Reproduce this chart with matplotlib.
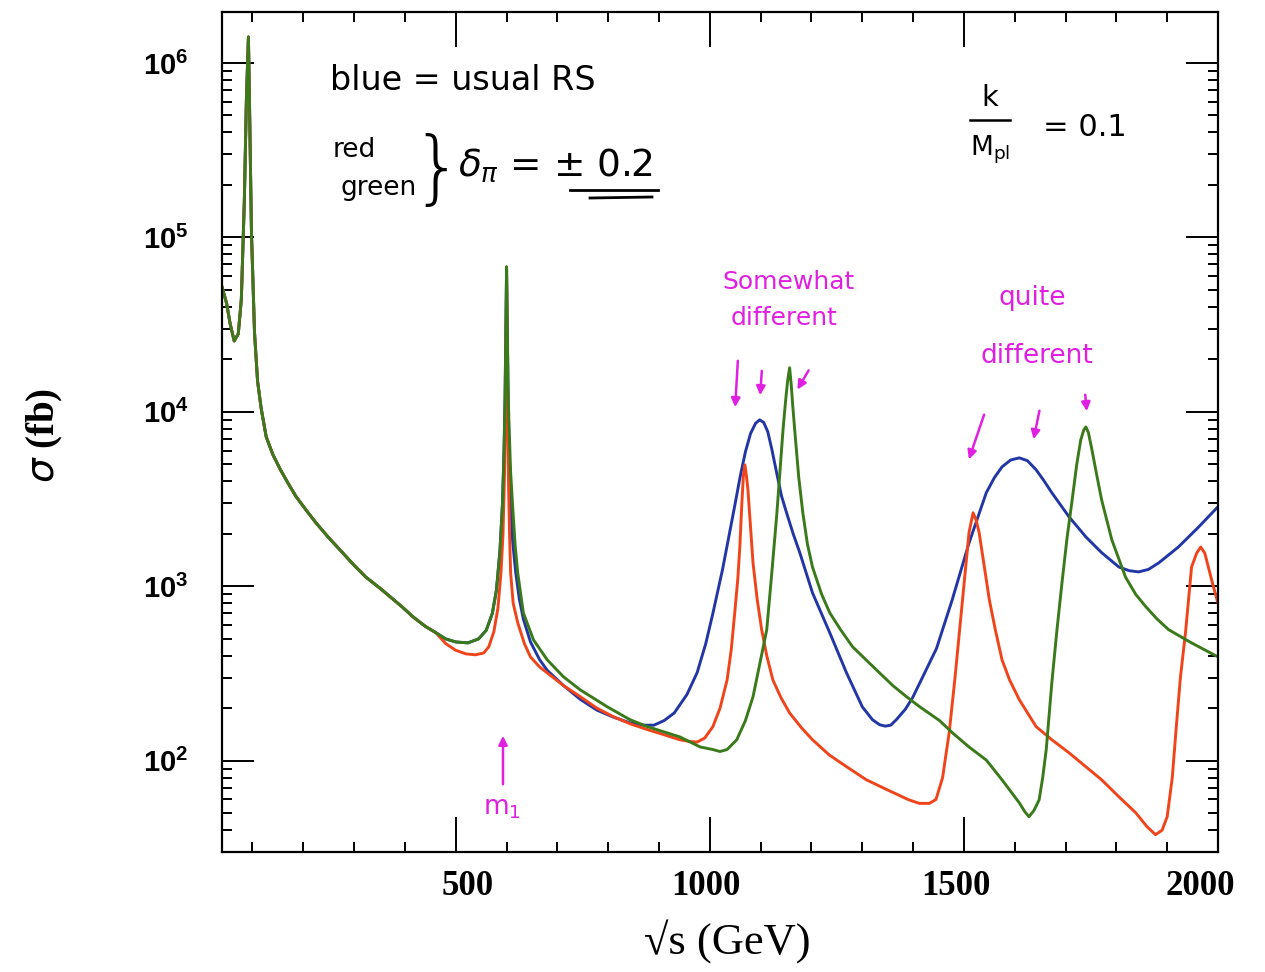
import numpy as np
import matplotlib
matplotlib.use("Agg")
import matplotlib.pyplot as plt
import matplotlib.transforms as mtrans
from matplotlib import ticker

plt.rcParams['mathtext.fontset'] = 'custom'
plt.rcParams['mathtext.bf'] = 'Liberation Sans:bold'
plt.rcParams['mathtext.rm'] = 'DejaVu Sans'
plt.rcParams['mathtext.it'] = 'DejaVu Sans:italic'

# ---- data (sqrt(s) in GeV, sigma in fb) ----
common_x = [40, 49, 56, 64, 72, 78, 84, 88, 92, 94, 98, 104, 110, 117, 127, 140, 155, 170,
            186, 205, 225, 250, 272, 300, 323, 350, 371, 395, 416, 440, 461]
common_y = [52000, 42000, 32000, 25500, 28000, 43900, 164000, 614000, 1.41e6, 614000, 106000,
            28400, 15000, 10500, 7190, 5700, 4660, 3900, 3260, 2750, 2310, 1900, 1620, 1320,
            1130, 980, 871, 760, 668, 590, 542]

blue_x = [480, 500, 524, 545, 560, 572, 580, 587, 592, 595, 597, 598.5, 600, 601.5, 603, 605,
          608, 612, 618, 625, 633, 647, 665, 680, 712, 745, 778, 810, 843, 870, 890, 910, 930,
          955, 975, 992, 1006, 1025, 1040, 1050, 1060, 1070, 1080, 1090, 1098, 1106, 1114, 1122,
          1132, 1141, 1151, 1164, 1177, 1202, 1236, 1269, 1300, 1320, 1334, 1345, 1356, 1367,
          1385, 1399, 1412, 1446, 1477, 1510, 1544, 1560, 1575, 1592, 1609, 1625, 1642, 1657,
          1673, 1707, 1740, 1771, 1805, 1825, 1844, 1863, 1883, 1922, 1962, 2000]
blue_y = [500, 480, 474, 500, 560, 700, 950, 1600, 3000, 6000, 12000, 28000, 66000, 28000,
          12000, 6000, 3000, 1800, 1200, 850, 650, 480, 380, 330, 270, 225, 195, 178, 165, 160,
          160, 170, 188, 240, 320, 470, 700, 1250, 2110, 3000, 4300, 5900, 7500, 8600, 9000,
          8700, 7700, 6100, 4400, 3300, 2640, 2000, 1560, 918, 542, 319, 204, 172, 161, 158,
          160, 172, 198, 230, 275, 440, 838, 1770, 3440, 4200, 4840, 5300, 5450, 5250, 4660,
          4050, 3440, 2500, 1920, 1560, 1290, 1230, 1210, 1250, 1360, 1680, 2190, 2860]

red_x = [480, 500, 520, 539, 555, 565, 575, 583, 589, 593, 596, 598, 599.3, 600, 600.7, 602,
         603.5, 605.5, 608, 613, 622, 635, 647, 665, 680, 712, 745, 778, 810, 843, 877, 910,
         941, 960, 975, 990, 1006, 1020, 1034, 1042, 1049, 1055, 1059, 1063, 1066, 1069, 1072,
         1075, 1080, 1085, 1093, 1102, 1112, 1124, 1140, 1157, 1180, 1202, 1235, 1269, 1308,
         1350, 1390, 1412, 1432, 1445, 1458, 1471, 1482, 1491, 1500, 1510, 1518, 1524, 1530,
         1540, 1550, 1562, 1575, 1590, 1609, 1642, 1673, 1707, 1740, 1771, 1805, 1838, 1860,
         1877, 1890, 1900, 1910, 1917, 1926, 1936, 1948, 1958, 1966, 1974, 1981, 1990, 2000]
red_y = [470, 430, 410, 405, 415, 450, 550, 750, 1200, 2000, 4500, 12000, 30000, 60000, 30000,
         10000, 4500, 2200, 1190, 800, 618, 470, 394, 345, 319, 270, 233, 200, 179, 163, 151,
         141, 132, 129, 128, 135, 157, 200, 291, 430, 705, 1100, 1680, 3000, 4300, 4970, 4300,
         3570, 2200, 1360, 850, 564, 400, 291, 230, 188, 155, 132, 108, 92.5, 77.8, 68, 60, 57,
         57, 60, 80, 145, 290, 542, 1000, 2030, 2640, 2400, 2030, 1300, 838, 560, 379, 290, 224,
         157, 132, 111, 92.5, 77.8, 62.2, 50.4, 42, 37.7, 40, 47.8, 80, 145, 300, 542, 1290, 1550,
         1680, 1550, 1290, 1020, 800]

green_x = [480, 500, 524, 545, 560, 572, 580, 587, 592, 595, 597, 598.5, 600, 601.5, 603, 604.5,
           608, 612, 617, 622, 633, 653, 680, 712, 745, 798, 843, 877, 941, 981, 1006, 1020,
           1034, 1053, 1070, 1085, 1100, 1112, 1122, 1132, 1139, 1144, 1149, 1153, 1157, 1160,
           1163, 1167, 1175, 1183, 1192, 1202, 1220, 1236, 1258, 1281, 1307, 1334, 1360, 1387,
           1412, 1452, 1477, 1510, 1544, 1575, 1609, 1620, 1628, 1638, 1648, 1655, 1662, 1673,
           1683, 1693, 1703, 1713, 1722, 1730, 1736, 1740, 1745, 1752, 1761, 1771, 1791, 1818,
           1838, 1858, 1880, 1903, 1948, 2000]
green_y = [500, 480, 474, 500, 560, 700, 950, 1600, 3000, 6000, 12000, 28000, 68000, 30000,
           14000, 9000, 4500, 2860, 1700, 1190, 705, 493, 379, 303, 255, 204, 172, 157, 137, 120,
           116, 113, 116, 132, 170, 233, 380, 564, 1200, 2640, 5000, 7890, 11500, 15000, 17900,
           14500, 11000, 7890, 4200, 2640, 1750, 1290, 900, 705, 560, 450, 380, 319, 270, 233,
           205, 170, 145, 120, 101, 77.8, 57.4, 51, 47.8, 52, 59.7, 80, 116, 280, 560, 1050,
           1900, 3130, 5000, 6920, 7900, 8200, 7600, 6050, 4400, 3130, 1850, 1130, 900, 764,
           650, 564, 474, 394]

x_major = [500, 1000, 1500, 2000]
x_labels = ['500', '1000', '1500', '2000']

# ---- figure ----
W, H = 1265, 972
fig = plt.figure(figsize=(W / 100, H / 100), dpi=100)
ax = fig.add_axes([222 / W, 1 - 852 / H, (1218 - 222) / W, (852 - 12) / H])

c_blue = '#2236a6'
c_red = '#f0441a'
c_green = '#3a7a1a'

ax.plot(common_x + blue_x, common_y + blue_y, color=c_blue, lw=2.1)
ax.plot(common_x + red_x, common_y + red_y, color=c_red, lw=2.1)
ax.plot(common_x + green_x, common_y + green_y, color=c_green, lw=2.1)

ax.set_yscale('log')
ax.set_xlim(40, 2000)
ax.set_ylim(30, 1.96e6)

ax.set_xticks(x_major)
ax.set_xticklabels(x_labels)
ax.set_xticks(np.arange(100, 2000, 100), minor=True)
ax.yaxis.set_major_locator(ticker.LogLocator(base=10, numticks=20))
ax.yaxis.set_minor_locator(ticker.LogLocator(base=10, subs=np.arange(2, 10), numticks=100))
ax.yaxis.set_minor_formatter(ticker.NullFormatter())
ax.yaxis.set_major_formatter(ticker.FuncFormatter(
    lambda v, p: r'$\mathbf{10^{%d}}$' % int(round(np.log10(v)))))

ax.tick_params(which='both', direction='in', top=True, right=True, width=1.4, color='black')
ax.tick_params(which='major', axis='x', length=25, pad=13)
ax.tick_params(which='minor', axis='x', length=7)
ax.tick_params(which='major', axis='y', length=23, pad=24)
ax.tick_params(which='minor', axis='y', length=7)
x_offsets_px = [12, -4, -8, -18]
for lab, dx in zip(ax.get_xticklabels(), x_offsets_px):
    lab.set_fontfamily('Liberation Serif')
    lab.set_fontweight('bold')
    lab.set_fontsize(25)
    lab.set_transform(lab.get_transform() +
                      mtrans.ScaledTranslation(dx / 100, 0, fig.dpi_scale_trans))
for lab in ax.get_yticklabels():
    lab.set_fontsize(21)
for s in ax.spines.values():
    s.set_linewidth(1.6)

def F(x, y):
    return (x / W, 1 - y / H)

fig.text(*F(45, 435), r'$\sigma$ (fb)', rotation=90, ha='center', va='center',
         fontsize=28, fontfamily='Liberation Serif', fontweight='bold')
fig.text(*F(727, 942), '√s (GeV)', ha='center', va='center',
         fontsize=32, fontfamily='Liberation Serif')

# ---- handwritten-style notes ----
hand = dict(fontfamily='DejaVu Sans', color='black')
fig.text(*F(330, 80), 'blue = usual RS', ha='left', va='center', fontsize=24, **hand)
fig.text(*F(333, 150), 'red', ha='left', va='center', fontsize=19, **hand)
fig.text(*F(340, 188), 'green', ha='left', va='center', fontsize=19, **hand)
fig.text(*F(437, 172), '}', ha='center', va='center', fontsize=58, fontweight='light', **hand)
fig.text(*F(458, 165), r'$\delta_\pi$ = $\pm$ 0.2', ha='left', va='center', fontsize=27, **hand)
fig.add_artist(plt.Line2D([570 / W, 658 / W], [1 - 190 / H, 1 - 190 / H], color='black', lw=2))
fig.add_artist(plt.Line2D([590 / W, 652 / W], [1 - 198 / H, 1 - 197 / H], color='black', lw=2))

fig.text(*F(990, 98), 'k', ha='center', va='center', fontsize=21, **hand)
fig.add_artist(plt.Line2D([970 / W, 1010 / W], [1 - 120 / H, 1 - 120 / H], color='black', lw=1.8))
fig.text(*F(990, 150), r'M$_{\rm pl}$', ha='center', va='center', fontsize=19, **hand)
fig.text(*F(1085, 127), '= 0.1', ha='center', va='center', fontsize=22, **hand)

mag = '#e020e0'
fig.text(*F(789, 282), 'Somewhat', ha='center', va='center', fontsize=18, color=mag)
fig.text(*F(784, 318), 'different', ha='center', va='center', fontsize=18, color=mag)
fig.text(*F(1032, 298), 'quite', ha='center', va='center', fontsize=19, color=mag)
fig.text(*F(1037, 356), 'different', ha='center', va='center', fontsize=19, color=mag)
fig.text(*F(502, 808), r'm$_1$', ha='center', va='center', fontsize=19, color=mag)

arrows = [((738, 358), (735, 410)), ((762, 368), (760, 398)), ((810, 368), (796, 392)),
          ((985, 412), (968, 462)), ((1040, 408), (1033, 442)), ((1085, 392), (1087, 414)),
          ((503, 787), (503, 733))]
for (x0, y0), (x1, y1) in arrows:
    fig.add_artist(matplotlib.patches.FancyArrowPatch(
        F(x0, y0), F(x1, y1), transform=fig.transFigure, arrowstyle='-|>',
        mutation_scale=13, color=mag, lw=1.8))

fig.savefig('out.png', dpi=100)
